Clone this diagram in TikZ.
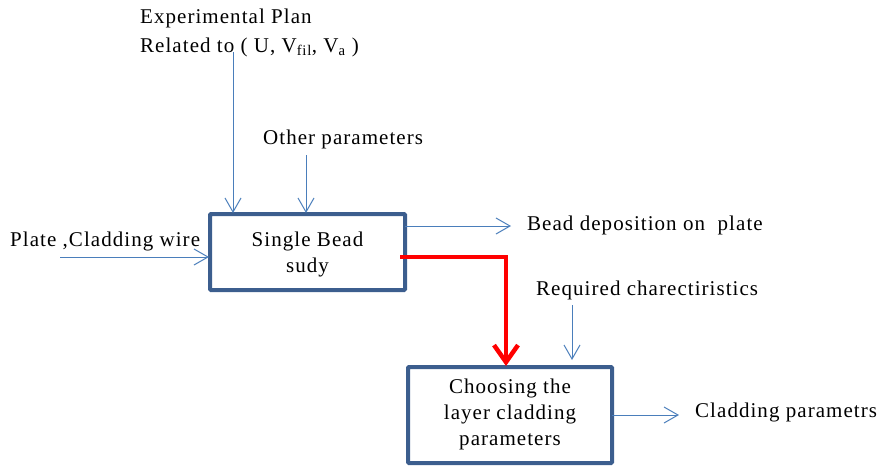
\documentclass[tikz,border=0pt]{standalone}
\usepackage{fontspec}
\setmainfont{Liberation Serif}[LetterSpace=5]
\usetikzlibrary{arrows.meta}
\definecolor{lineblue}{HTML}{4A7EBB}
\definecolor{boxblue}{HTML}{3C5E8E}
\begin{document}
\begin{tikzpicture}[x=1pt,y=-1pt,
  lbl/.style={font=\fontsize{21}{25}\selectfont, inner sep=0pt, anchor=west, text=black},
  boxtext/.style={font=\fontsize{21}{26}\selectfont, align=center, inner sep=0pt, text=black},
  procbox/.style={draw=boxblue, line width=4pt, rounded corners=1pt},
  flow/.style={draw=lineblue, line width=1pt, -{Straight Barb[length=14pt,width=16pt,line width=1pt]}},
  mainflow/.style={draw=red, line width=4.5pt, -{Straight Barb[length=17pt,width=24pt,line width=4.5pt]}}]
\useasboundingbox (0,0) rectangle (881,466);
% boxes
\draw[procbox] (210,214) rectangle (405,290);
\node[boxtext] (b1) at (307.5,254) {Single Bead\\sudy};
\draw[procbox] (408,367) rectangle (612,463);
\node[boxtext] (b2) at (510,414) {Choosing the\\layer cladding\\parameters};
% labels
\node[lbl, align=left, font=\fontsize{21}{29}\selectfont] (plan) at (140,33) {Experimental Plan\\Related to ( U, V\textsubscript{fil}, V\textsubscript{a} )};
\node[lbl] (other) at (263,139) {Other parameters};
\node[lbl] (plate) at (10,241) {Plate ,Cladding wire};
\node[lbl] (bead) at (527,225) {Bead deposition on\ \ plate};
\node[lbl] (req) at (536,290) {Required charectiristics};
\node[lbl] (clad) at (695,412) {Cladding parametrs};
% coordinates
\coordinate (p1s) at (233,52);
\coordinate (p1e) at (233,213);
\coordinate (o1s) at (306,155);
\coordinate (o1e) at (306,213);
\coordinate (pls) at (60,257);
\coordinate (ple) at (209,257);
\coordinate (bds) at (405,226);
\coordinate (bde) at (511,226);
\coordinate (rqs) at (572,305);
\coordinate (rqe) at (572,360);
\coordinate (cls) at (612,415);
\coordinate (cle) at (679,415);
\coordinate (rs) at (400,257);
\coordinate (rc) at (506,257);
\coordinate (re) at (506,366);
% connectors
\draw[flow] (p1s) -- (p1e);
\draw[flow] (o1s) -- (o1e);
\draw[flow] (pls) -- (ple);
\draw[flow] (bds) -- (bde);
\draw[flow] (rqs) -- (rqe);
\draw[flow] (cls) -- (cle);
\draw[mainflow] (rs) -- (rc) -- (re);
\end{tikzpicture}
\end{document}
